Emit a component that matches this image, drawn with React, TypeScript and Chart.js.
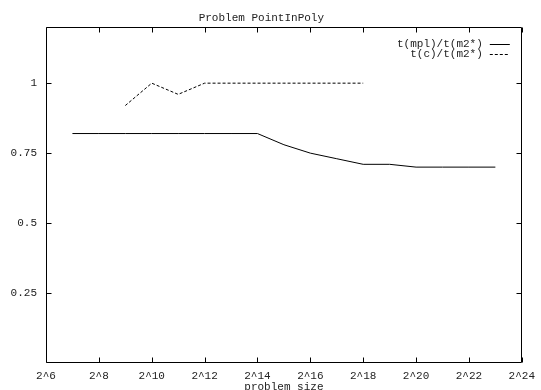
import { useEffect, useRef } from 'react';
import { Chart, registerables } from 'chart.js';

Chart.register(...registerables);

const chartTitle = 'Problem PointInPoly';
const xAxisTitle = 'problem size';
const seriesLabels = ['t(mpl)/t(m2*)', 't(c)/t(m2*)'];

// x = log2(problem size)
const mplExp = [7, 8, 9, 10, 11, 12, 13, 14, 15, 16, 17, 18, 19, 20, 21, 22, 23];
const mplRatio = [0.82, 0.82, 0.82, 0.82, 0.82, 0.82, 0.82, 0.82, 0.78, 0.75, 0.73, 0.71, 0.71, 0.7, 0.7, 0.7, 0.7];
const cExp = [9, 10, 11, 12, 13, 14, 15, 16, 17, 18];
const cRatio = [0.92, 1.0, 0.96, 1.0, 1.0, 1.0, 1.0, 1.0, 1.0, 1.0];

const xTickExps = [6, 8, 10, 12, 14, 16, 18, 20, 22, 24];
const yTickValues = [0.25, 0.5, 0.75, 1];

const FONT = "'Liberation Mono', 'DejaVu Sans Mono', monospace";
const TEXT = '#222';

const framePlugin = {
  id: 'frame',
  afterDatasetsDraw(chart: any) {
    const { ctx, chartArea, scales } = chart;
    const L = Math.round(chartArea.left) + 0.5;
    const R = Math.round(chartArea.right) - 0.5;
    const T = Math.round(chartArea.top) + 0.5;
    const B = Math.round(chartArea.bottom) - 0.5;
    const tl = 5;
    ctx.save();
    ctx.strokeStyle = '#000';
    ctx.lineWidth = 1;
    ctx.setLineDash([]);
    ctx.beginPath();
    ctx.rect(L, T, R - L, B - T);
    scales.x.ticks.forEach((t: any) => {
      const px = Math.round(scales.x.getPixelForValue(t.value)) + 0.5;
      ctx.moveTo(px, B);
      ctx.lineTo(px, B - tl);
      ctx.moveTo(px, T);
      ctx.lineTo(px, T + tl);
    });
    scales.y.ticks.forEach((t: any) => {
      const py = Math.round(scales.y.getPixelForValue(t.value)) + 0.5;
      ctx.moveTo(L, py);
      ctx.lineTo(L + tl, py);
      ctx.moveTo(R, py);
      ctx.lineTo(R - tl, py);
    });
    ctx.stroke();
    ctx.restore();
  },
};

const keyPlugin = {
  id: 'key',
  afterDraw(chart: any) {
    const { ctx, chartArea } = chart;
    const lineEnd = chartArea.right - 12;
    const lineStart = chartArea.right - 32;
    const textRight = chartArea.right - 39;
    ctx.save();
    ctx.font = `11px ${FONT}`;
    ctx.textAlign = 'right';
    ctx.textBaseline = 'middle';
    chart.data.datasets.forEach((ds: any, i: number) => {
      const y = Math.round(chartArea.top + 17 + i * 10) + 0.5;
      ctx.fillStyle = TEXT;
      ctx.fillText(ds.label, textRight, y);
      ctx.strokeStyle = ds.borderColor;
      ctx.lineWidth = ds.borderWidth;
      ctx.setLineDash(ds.borderDash || []);
      ctx.beginPath();
      ctx.moveTo(lineStart, y);
      ctx.lineTo(lineEnd, y);
      ctx.stroke();
    });
    ctx.restore();
  },
};

export default function App() {
  const ref = useRef<HTMLCanvasElement>(null);

  useEffect(() => {
    if (!ref.current) return;
    const chart = new Chart(ref.current, {
      type: 'line',
      data: {
        datasets: [
          {
            label: seriesLabels[0],
            data: mplExp.map((e, i) => ({ x: e, y: mplRatio[i] })),
            borderColor: '#000',
            borderWidth: 1,
            pointRadius: 0,
            tension: 0,
          },
          {
            label: seriesLabels[1],
            data: cExp.map((e, i) => ({ x: e, y: cRatio[i] })),
            borderColor: '#000',
            borderWidth: 1,
            borderDash: [3, 2],
            pointRadius: 0,
            tension: 0,
          },
        ],
      },
      options: {
        responsive: false,
        animation: false,
        events: [],
        layout: { padding: { left: 0, right: 18.3, top: 0, bottom: 0 } },
        plugins: {
          legend: { display: false },
          tooltip: { enabled: false },
          title: {
            display: true,
            text: chartTitle,
            color: TEXT,
            font: { family: FONT, size: 11, weight: 'normal', lineHeight: 1.2 },
            padding: { top: 11, bottom: 3 },
          },
        },
        scales: {
          x: {
            type: 'linear',
            min: 6,
            max: 24,
            afterBuildTicks: (s: any) => {
              s.ticks = xTickExps.map((v) => ({ value: v }));
            },
            afterFit: (s: any) => {
              s.height = 27;
            },
            grid: { display: false, drawTicks: false },
            border: { display: false },
            ticks: {
              color: TEXT,
              font: { family: FONT, size: 11 },
              padding: 6,
              maxRotation: 0,
              autoSkip: false,
              callback: (v: any) => '2^' + v,
            },
            title: {
              display: true,
              text: xAxisTitle,
              color: TEXT,
              font: { family: FONT, size: 11, lineHeight: 0.6 },
              padding: { top: 0, bottom: 0 },
            },
          },
          y: {
            type: 'linear',
            min: 0,
            max: 1.2,
            afterBuildTicks: (s: any) => {
              s.ticks = yTickValues.map((v) => ({ value: v }));
            },
            afterFit: (s: any) => {
              s.width = 46;
            },
            grid: { display: false, drawTicks: false },
            border: { display: false },
            ticks: {
              color: TEXT,
              font: { family: FONT, size: 11 },
              padding: 9,
              callback: (v: any) => String(v),
            },
          },
        },
      },
      plugins: [framePlugin, keyPlugin],
    });
    return () => chart.destroy();
  }, []);

  return (
    <div style={{ position: 'absolute', left: 0, top: 0, width: 541, height: 390, background: '#fff' }}>
      <canvas ref={ref} width={541} height={390} style={{ display: 'block' }} />
    </div>
  );
}
